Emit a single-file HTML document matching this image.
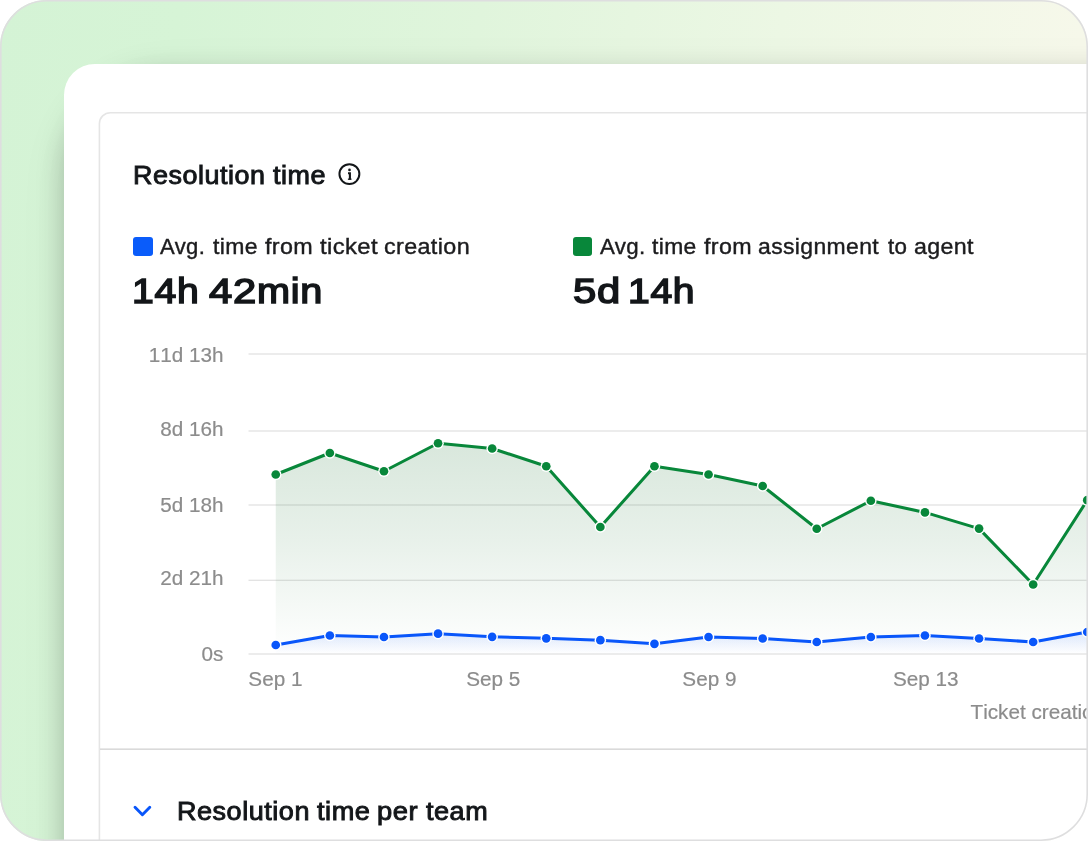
<!DOCTYPE html>
<html lang="en">
<head>
<meta charset="utf-8">
<title>Resolution time</title>
<style>
html,body{margin:0;padding:0;background:#fff;}
body{width:1088px;height:841px;overflow:hidden;position:relative;font-family:"Liberation Sans",Arial,Helvetica,sans-serif;color:#131619;}
.frame{position:absolute;left:0;top:0;width:1088px;height:841px;box-sizing:border-box;border-radius:47px;overflow:hidden;
  background:linear-gradient(98deg,#d4f3d5 0%,#d6f4d6 15%,#e0f5dc 40%,#ecf7e4 65%,#f6f8ea 90%);}
.shadow{position:absolute;left:64px;top:64px;width:1100px;height:900px;border-radius:100px 0 0 0;box-shadow:0 10px 28px rgba(0,0,0,.23),0 12px 60px rgba(0,0,0,.04);}
.panel{position:absolute;left:64px;top:64px;width:1100px;height:900px;background:#fff;border-radius:31px 0 0 0;}
.t{position:absolute;left:0;white-space:nowrap;line-height:1;}
.w{position:absolute;top:0;display:inline-block;transform-origin:0 0;white-space:nowrap;}
.h2{font-weight:400;font-size:25px;-webkit-text-stroke:0.9px #131619;color:#131619;letter-spacing:0.5px;}
.lg{font-weight:400;font-size:22px;-webkit-text-stroke:0.4px #1c1c1e;color:#1c1c1e;letter-spacing:0.35px;}
.big{font-weight:400;font-size:35.4px;-webkit-text-stroke:1.5px #131619;color:#131619;letter-spacing:0.6px;}
.ax{font-weight:400;font-size:20.7px;-webkit-text-stroke:0.2px #8c8c8c;color:#8c8c8c;font-kerning:none;}
.yl{left:auto;right:864.6px;}
.xl{width:120px;text-align:center;}
.sq{position:absolute;width:19.6px;height:19.6px;border-radius:3px;}
svg{position:absolute;left:0;top:0;}
</style>
</head>
<body>
<div class="frame">
  <div class="shadow"></div>
  <div class="panel"></div>

  <div class="t h2" id="title" style="top:162.84px"><span class="w" style="left:132.72px;transform:scaleX(1.0759)">Resolution</span> <span class="w" style="left:272.70px;transform:scaleX(1.0771)">time</span></div>
  <svg width="1088" height="841" viewBox="0 0 1088 841">
    <defs>
      <linearGradient id="gg" x1="0" y1="443" x2="0" y2="654" gradientUnits="userSpaceOnUse">
        <stop offset="0" stop-color="#2a7c3e" stop-opacity=".18"/>
        <stop offset=".45" stop-color="#2a7c3e" stop-opacity=".11"/>
        <stop offset="1" stop-color="#2a7c3e" stop-opacity="0"/>
      </linearGradient>
      <linearGradient id="bg" x1="0" y1="632" x2="0" y2="654" gradientUnits="userSpaceOnUse">
        <stop offset="0" stop-color="#0956fa" stop-opacity=".13"/>
        <stop offset="1" stop-color="#0956fa" stop-opacity="0"/>
      </linearGradient>
    </defs>
    <!-- card -->
    <rect x="99.4" y="112.7" width="1100" height="900" rx="11" ry="11" fill="none" stroke="#e5e5e5" stroke-width="1.6"/>
    <rect x="100" y="748.4" width="1000" height="1.6" fill="#dadada"/>
    <!-- info icon -->
    <g fill="none" stroke="#131619">
      <circle cx="349.4" cy="174.1" r="9.95" stroke-width="2"/>
      <path d="M348 173.2h1.9v6.2" stroke-width="2.1"/>
      <path d="M347.9 179.2h3.6" stroke-width="1.3"/>
    </g>
    <circle cx="349.5" cy="169.9" r="1.35" fill="#131619"/>
    <!-- grid -->
    <rect x="248.5" y="353.35" width="850" height="1.3" fill="#e2e2e2"/>
    <rect x="248.5" y="430.35" width="850" height="1.3" fill="#e2e2e2"/>
    <rect x="248.5" y="504.35" width="850" height="1.3" fill="#e2e2e2"/>
    <rect x="248.5" y="579.65" width="850" height="1.3" fill="#e2e2e2"/>
    <rect x="248.5" y="653.35" width="850" height="1.3" fill="#e2e2e2"/>
    <path d="M275.75,474.50 L329.85,453.00 L383.95,471.25 L438.05,443.25 L492.15,448.50 L546.25,466.25 L600.35,527.00 L654.45,466.25 L708.55,474.50 L762.65,486.00 L816.75,528.75 L870.85,500.75 L924.95,512.40 L979.05,528.60 L1033.15,584.50 L1087.25,500.20 L1087.25,654 L275.75,654 Z" fill="url(#gg)"/>
    <path d="M275.75,645.00 L329.85,635.50 L383.95,637.00 L438.05,633.70 L492.15,636.80 L546.25,638.30 L600.35,640.20 L654.45,643.80 L708.55,637.00 L762.65,638.50 L816.75,642.00 L870.85,637.00 L924.95,635.50 L979.05,638.50 L1033.15,642.00 L1087.25,632.00 L1087.25,654 L275.75,654 Z" fill="url(#bg)"/>
    <polyline points="275.75,474.50 329.85,453.00 383.95,471.25 438.05,443.25 492.15,448.50 546.25,466.25 600.35,527.00 654.45,466.25 708.55,474.50 762.65,486.00 816.75,528.75 870.85,500.75 924.95,512.40 979.05,528.60 1033.15,584.50 1087.25,500.20" fill="none" stroke="#08873a" stroke-width="3.05" stroke-linejoin="round"/>
    <polyline points="275.75,645.00 329.85,635.50 383.95,637.00 438.05,633.70 492.15,636.80 546.25,638.30 600.35,640.20 654.45,643.80 708.55,637.00 762.65,638.50 816.75,642.00 870.85,637.00 924.95,635.50 979.05,638.50 1033.15,642.00 1087.25,632.00" fill="none" stroke="#0956fa" stroke-width="3.05" stroke-linejoin="round"/>
    <circle cx="275.75" cy="474.50" r="5.75" fill="#fff"/><circle cx="275.75" cy="474.50" r="4.35" fill="#08873a"/>
    <circle cx="329.85" cy="453.00" r="5.75" fill="#fff"/><circle cx="329.85" cy="453.00" r="4.35" fill="#08873a"/>
    <circle cx="383.95" cy="471.25" r="5.75" fill="#fff"/><circle cx="383.95" cy="471.25" r="4.35" fill="#08873a"/>
    <circle cx="438.05" cy="443.25" r="5.75" fill="#fff"/><circle cx="438.05" cy="443.25" r="4.35" fill="#08873a"/>
    <circle cx="492.15" cy="448.50" r="5.75" fill="#fff"/><circle cx="492.15" cy="448.50" r="4.35" fill="#08873a"/>
    <circle cx="546.25" cy="466.25" r="5.75" fill="#fff"/><circle cx="546.25" cy="466.25" r="4.35" fill="#08873a"/>
    <circle cx="600.35" cy="527.00" r="5.75" fill="#fff"/><circle cx="600.35" cy="527.00" r="4.35" fill="#08873a"/>
    <circle cx="654.45" cy="466.25" r="5.75" fill="#fff"/><circle cx="654.45" cy="466.25" r="4.35" fill="#08873a"/>
    <circle cx="708.55" cy="474.50" r="5.75" fill="#fff"/><circle cx="708.55" cy="474.50" r="4.35" fill="#08873a"/>
    <circle cx="762.65" cy="486.00" r="5.75" fill="#fff"/><circle cx="762.65" cy="486.00" r="4.35" fill="#08873a"/>
    <circle cx="816.75" cy="528.75" r="5.75" fill="#fff"/><circle cx="816.75" cy="528.75" r="4.35" fill="#08873a"/>
    <circle cx="870.85" cy="500.75" r="5.75" fill="#fff"/><circle cx="870.85" cy="500.75" r="4.35" fill="#08873a"/>
    <circle cx="924.95" cy="512.40" r="5.75" fill="#fff"/><circle cx="924.95" cy="512.40" r="4.35" fill="#08873a"/>
    <circle cx="979.05" cy="528.60" r="5.75" fill="#fff"/><circle cx="979.05" cy="528.60" r="4.35" fill="#08873a"/>
    <circle cx="1033.15" cy="584.50" r="5.75" fill="#fff"/><circle cx="1033.15" cy="584.50" r="4.35" fill="#08873a"/>
    <circle cx="1087.25" cy="500.20" r="5.75" fill="#fff"/><circle cx="1087.25" cy="500.20" r="4.35" fill="#08873a"/>
    <circle cx="275.75" cy="645.00" r="5.75" fill="#fff"/><circle cx="275.75" cy="645.00" r="4.35" fill="#0956fa"/>
    <circle cx="329.85" cy="635.50" r="5.75" fill="#fff"/><circle cx="329.85" cy="635.50" r="4.35" fill="#0956fa"/>
    <circle cx="383.95" cy="637.00" r="5.75" fill="#fff"/><circle cx="383.95" cy="637.00" r="4.35" fill="#0956fa"/>
    <circle cx="438.05" cy="633.70" r="5.75" fill="#fff"/><circle cx="438.05" cy="633.70" r="4.35" fill="#0956fa"/>
    <circle cx="492.15" cy="636.80" r="5.75" fill="#fff"/><circle cx="492.15" cy="636.80" r="4.35" fill="#0956fa"/>
    <circle cx="546.25" cy="638.30" r="5.75" fill="#fff"/><circle cx="546.25" cy="638.30" r="4.35" fill="#0956fa"/>
    <circle cx="600.35" cy="640.20" r="5.75" fill="#fff"/><circle cx="600.35" cy="640.20" r="4.35" fill="#0956fa"/>
    <circle cx="654.45" cy="643.80" r="5.75" fill="#fff"/><circle cx="654.45" cy="643.80" r="4.35" fill="#0956fa"/>
    <circle cx="708.55" cy="637.00" r="5.75" fill="#fff"/><circle cx="708.55" cy="637.00" r="4.35" fill="#0956fa"/>
    <circle cx="762.65" cy="638.50" r="5.75" fill="#fff"/><circle cx="762.65" cy="638.50" r="4.35" fill="#0956fa"/>
    <circle cx="816.75" cy="642.00" r="5.75" fill="#fff"/><circle cx="816.75" cy="642.00" r="4.35" fill="#0956fa"/>
    <circle cx="870.85" cy="637.00" r="5.75" fill="#fff"/><circle cx="870.85" cy="637.00" r="4.35" fill="#0956fa"/>
    <circle cx="924.95" cy="635.50" r="5.75" fill="#fff"/><circle cx="924.95" cy="635.50" r="4.35" fill="#0956fa"/>
    <circle cx="979.05" cy="638.50" r="5.75" fill="#fff"/><circle cx="979.05" cy="638.50" r="4.35" fill="#0956fa"/>
    <circle cx="1033.15" cy="642.00" r="5.75" fill="#fff"/><circle cx="1033.15" cy="642.00" r="4.35" fill="#0956fa"/>
    <circle cx="1087.25" cy="632.00" r="5.75" fill="#fff"/><circle cx="1087.25" cy="632.00" r="4.35" fill="#0956fa"/>
    <!-- chevron -->
    <path d="M135 807.2L142.4 814.8L149.8 807.2" fill="none" stroke="#0956fa" stroke-width="2.9" stroke-linecap="round" stroke-linejoin="round"/>
  </svg>

  <div class="sq" style="left:133px;top:236.6px;background:#0a5cfa;"></div>
  <div class="t lg" id="lg1" style="top:236.48px"><span class="w" style="left:160.10px;transform:scaleX(1.0023)">Avg.</span> <span class="w" style="left:212.60px;transform:scaleX(1.0452)">time</span> <span class="w" style="left:264.60px;transform:scaleX(1.0591)">from</span> <span class="w" style="left:319.70px;transform:scaleX(1.0849)">ticket</span> <span class="w" style="left:383.76px;transform:scaleX(1.0605)">creation</span></div>
  <div class="t big" id="big1" style="top:273.53px"><span class="w" style="left:132.38px;transform:scaleX(1.1079)">14h</span> <span class="w" style="left:209.00px;transform:scaleX(1.1821)">42</span> <span class="w" style="left:257.21px;transform:scaleX(1.1208)">min</span></div>

  <div class="sq" style="left:572.5px;top:236.6px;background:#08873a;"></div>
  <div class="t lg" id="lg2" style="top:236.48px"><span class="w" style="left:599.60px;transform:scaleX(1.0140)">Avg.</span> <span class="w" style="left:652.00px;transform:scaleX(1.0405)">time</span> <span class="w" style="left:703.80px;transform:scaleX(1.0568)">from</span> <span class="w" style="left:758.08px;transform:scaleX(1.0433)">assignment</span> <span class="w" style="left:888.00px;transform:scaleX(1.0167)">to</span> <span class="w" style="left:913.87px;transform:scaleX(1.0542)">agent</span></div>
  <div class="t big" id="big2" style="top:273.53px"><span class="w" style="left:572.95px;transform:scaleX(1.1803)">5d</span> <span class="w" style="left:627.79px;transform:scaleX(1.1053)">14h</span></div>

  <div class="t ax yl" style="top:345.28px">11d 13h</div>
  <div class="t ax yl" style="top:419.28px">8d 16h</div>
  <div class="t ax yl" style="top:494.58px">5d 18h</div>
  <div class="t ax yl" style="top:568.28px">2d 21h</div>
  <div class="t ax yl" style="top:643.98px">0s</div>

  <div class="t ax xl" style="left:215.40px;top:668.78px">Sep 1</div>
  <div class="t ax xl" style="left:433.20px;top:668.78px">Sep 5</div>
  <div class="t ax xl" style="left:649.40px;top:668.78px">Sep 9</div>
  <div class="t ax xl" style="left:865.75px;top:668.78px">Sep 13</div>
  <div class="t ax" id="xt" style="left:970.5px;top:701.98px;">Ticket creation date</div>

  <div class="t h2" id="title2" style="top:799.34px"><span class="w" style="left:176.76px;transform:scaleX(1.0797)">Resolution</span> <span class="w" style="left:316.70px;transform:scaleX(1.0854)">time</span> <span class="w" style="left:376.91px;transform:scaleX(1.0917)">per</span> <span class="w" style="left:425.60px;transform:scaleX(1.0804)">team</span></div>
</div>
<svg width="1088" height="841" viewBox="0 0 1088 841" style="z-index:10;pointer-events:none"><rect x="0.8" y="0.8" width="1086.4" height="839.4" rx="46.2" ry="46.2" fill="none" stroke="#dededf" stroke-width="1.6"/></svg>
</body>
</html>
